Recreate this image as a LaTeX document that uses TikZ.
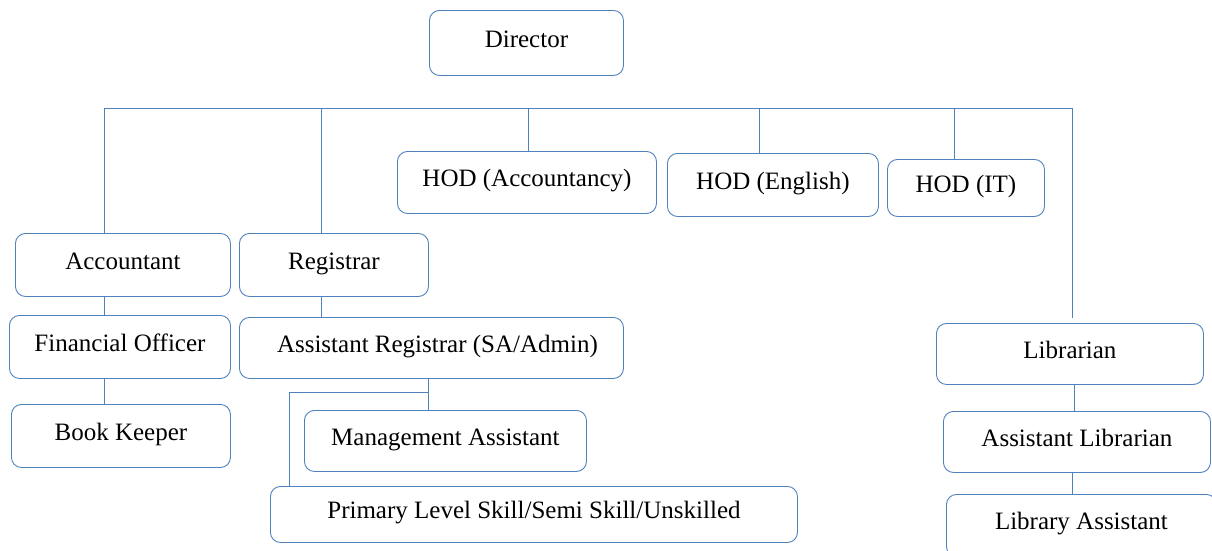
\documentclass[tikz,border=0pt]{standalone}
\usepackage{fontspec}
\setmainfont{Liberation Serif}
\usetikzlibrary{calc}
\definecolor{lc}{RGB}{79,129,189}
\tikzset{
  orgbox/.style={draw=lc, line width=0.9pt, rounded corners=10pt, inner sep=0pt, anchor=north west, font=\fontsize{25}{30}\selectfont},
  link/.style={draw=lc, line width=0.9pt}
}
\newcommand\obox[6]{\node[orgbox, minimum width={(#4)-(#2)}, minimum height={(#5)-(#3)}] (#1) at (#2,#3) {\raisebox{-4.5pt}[0pt][0pt]{#6}};}
\begin{document}
\begin{tikzpicture}[x=1pt,y=-1pt]
\useasboundingbox (0,0) rectangle (1212,550);
\clip (0,0) rectangle (1212,550);
\obox{dir}{429}{10}{623}{75}{Director}
\obox{hacc}{397}{151}{656}{213}{HOD (Accountancy)}
\obox{heng}{667}{153}{878}{216}{HOD (English)}
\obox{hit}{887}{159}{1044}{216}{HOD (IT)}
\obox{acc}{15}{233}{230}{296}{Accountant}
\obox{reg}{239}{233}{428}{296}{Registrar}
\obox{fin}{9}{315}{230}{378}{Financial Officer}
\obox{bk}{11}{404}{230}{467}{Book Keeper}
\obox{ar}{239}{317}{623}{378}{\hspace{12pt}Assistant Registrar (SA/Admin)}
\obox{ma}{304}{410}{586}{471}{Management Assistant}
\obox{pl}{270}{486}{797}{542}{Primary Level Skill/Semi Skill/Unskilled}
\obox{lib}{936}{323}{1203}{384}{Librarian}
\obox{al}{943}{411}{1210}{472}{Assistant Librarian}
\obox{la}{946}{494}{1216}{556}{Library Assistant}
% bus
\coordinate (bA) at (104,108);
\coordinate (bR) at (321,108);
\coordinate (bH1) at (528,108);
\coordinate (bH2) at (759,108);
\coordinate (bH3) at (954,108);
\coordinate (bL) at (1072,108);
\draw[link] (bA) -- (bL);
\draw[link] (bA) -- (bA |- acc.north);
\draw[link] (bR) -- (bR |- reg.north);
\draw[link] (bH1) -- (bH1 |- hacc.north);
\draw[link] (bH2) -- (bH2 |- heng.north);
\draw[link] (bH3) -- (bH3 |- hit.north);
\draw[link] (bL) -- ($(bL |- lib.north)+(0,-5)$);
% accountant chain
\draw[link] (bA |- acc.south) -- (bA |- fin.north);
\draw[link] (bA |- fin.south) -- (bA |- bk.north);
% registrar chain
\draw[link] (bR |- reg.south) -- (bR |- ar.north);
\coordinate (arx) at (428,378);
\coordinate (arj) at (428,392);
\coordinate (plx) at (289,392);
\draw[link] (arx) -- (arx |- ma.north);
\draw[link] (arj) -- (plx) -- (plx |- pl.north);
% librarian chain
\coordinate (lx) at (1074,384);
\draw[link] (lx |- lib.south) -- (lx |- al.north);
\coordinate (lx2) at (1072,472);
\draw[link] (lx2 |- al.south) -- (lx2 |- la.north);
\end{tikzpicture}
\end{document}
